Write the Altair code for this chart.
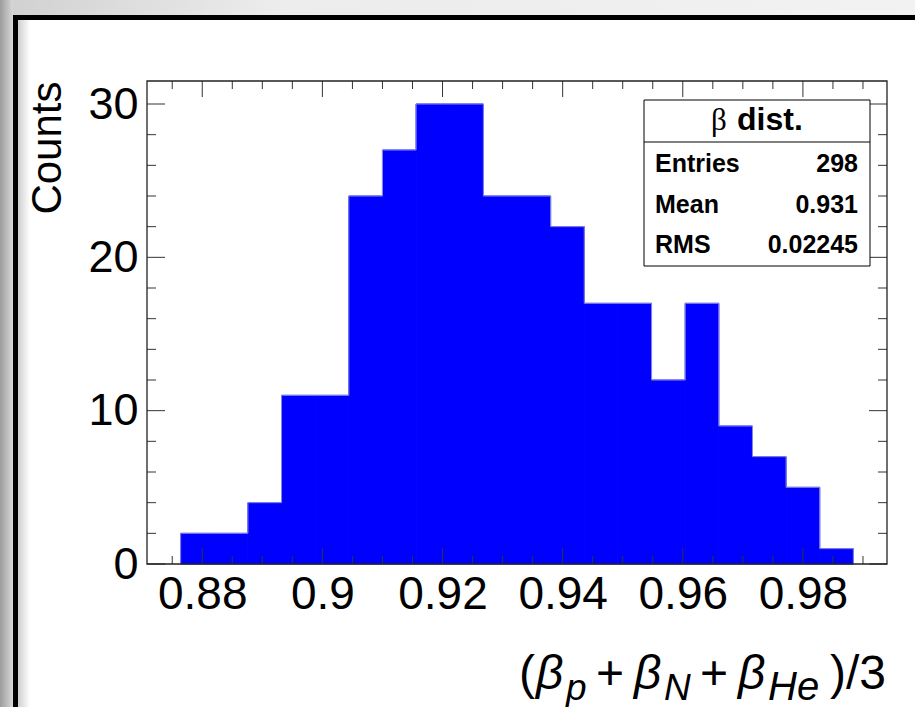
import altair as alt
import pandas as pd

# ---- data ----
bin_lo = [0.8764, 0.8820, 0.8876, 0.8932, 0.8988, 0.9044, 0.9100, 0.9156, 0.9212, 0.9268,
          0.9324, 0.9380, 0.9436, 0.9492, 0.9548, 0.9604, 0.9660, 0.9716, 0.9772, 0.9828]
bin_hi = [0.8820, 0.8876, 0.8932, 0.8988, 0.9044, 0.9100, 0.9156, 0.9212, 0.9268, 0.9324,
          0.9380, 0.9436, 0.9492, 0.9548, 0.9604, 0.9660, 0.9716, 0.9772, 0.9828, 0.9884]
counts = [2, 2, 4, 11, 11, 24, 27, 30, 30, 24, 24, 22, 17, 17, 12, 17, 9, 7, 5, 1]

x_major = [0.88, 0.90, 0.92, 0.94, 0.96, 0.98]
x_minor = [0.875, 0.885, 0.89, 0.895, 0.905, 0.91, 0.915, 0.925, 0.93, 0.935,
           0.945, 0.95, 0.955, 0.965, 0.97, 0.975, 0.985, 0.99]
y_major = [0, 10, 20, 30]
y_minor = [2, 4, 6, 8, 12, 14, 16, 18, 22, 24, 26, 28]

x_domain = [0.8708, 0.994]
y_domain = [0, 31.5]

stats_title = "dist."
stats_labels = ["Entries", "Mean", "RMS"]
stats_values = ["298", "0.931", "0.02245"]
y_title = "Counts"

# ---- layout ----
W, H = 740, 483
PL, PT = 147, 81
FONT = "Liberation Sans"

hist = pd.DataFrame({"lo": bin_lo, "hi": bin_hi, "n": counts})
ox = [bin_lo[0]] + bin_lo + [bin_hi[-1], bin_hi[-1]]
oy = [0] + counts + [counts[-1], 0]
outline = pd.DataFrame({"x": ox, "y": oy, "i": list(range(len(ox)))})
one = pd.DataFrame({"k": [0]})

xs = alt.Scale(domain=x_domain, nice=False, zero=False)
ys = alt.Scale(domain=y_domain, nice=False, zero=False)


def box(x1, x2, y1, y2, **kw):
    return alt.Chart(one).mark_rect(**kw).encode(
        x=alt.value(x1), x2=alt.value(x2), y=alt.value(y1), y2=alt.value(y2))


def vtext(txt, x, y, size, align="left", weight="normal", style="normal", font=FONT):
    return alt.Chart(one).mark_text(
        text=txt, align=align, baseline="alphabetic", fontSize=size,
        fontWeight=weight, fontStyle=style, font=font, color="black"
    ).encode(x=alt.value(x), y=alt.value(y))


grad_left = alt.Gradient(gradient="linear", x1=0, x2=1, y1=0, y2=0,
                         stops=[alt.GradientStop(color="#9c9c9c", offset=0),
                                alt.GradientStop(color="#d8d8d8", offset=1)])
grad_top = alt.Gradient(gradient="linear", x1=0, x2=1, y1=0, y2=0,
                        stops=[alt.GradientStop(color="#d0d0d0", offset=0),
                               alt.GradientStop(color="#ececec", offset=0.3),
                               alt.GradientStop(color="#f2f2f2", offset=1)])
grad_inner = alt.Gradient(gradient="linear", x1=0, x2=1, y1=0, y2=0,
                          stops=[alt.GradientStop(color="#cfcfcf", offset=0),
                                 alt.GradientStop(color="#ffffff", offset=1)])

deco = [
    box(-PL, 915 - PL, -PT, 15 - PT, fill=grad_top),
    box(-PL, 13 - PL, -PT, 707 - PT, fill=grad_left),
    box(18 - PL, 30 - PL, 20 - PT, 707 - PT, fill=grad_inner),
    box(13 - PL, 915 - PL, 15 - PT, 20 - PT, fill="black"),
    box(13 - PL, 18 - PL, 15 - PT, 707 - PT, fill="black"),
]

bars = alt.Chart(hist).mark_rect(color="#0000ff", stroke="#0000ff",
                                 strokeWidth=1).encode(
    x=alt.X("lo:Q", scale=xs, title=None,
            axis=alt.Axis(values=x_major, format=".2~f", ticks=False, domain=False,
                          grid=False, labelFont=FONT, labelFontSize=46,
                          labelColor="black", labelPadding=8, labelFlush=False,
                          labelOverlap=False)),
    x2="hi:Q",
    y=alt.Y("n:Q", scale=ys, title=y_title,
            axis=alt.Axis(values=y_major, format="d", ticks=False, domain=False,
                          grid=False, labelFont=FONT, labelFontSize=45,
                          labelColor="black", labelPadding=9, labelFlush=False,
                          labelOverlap=False, titleFont=FONT, titleFontSize=42,
                          titleFontWeight="normal", titleColor="black",
                          titleAngle=270, titleAlign="right",
                          titleBaseline="alphabetic", titleX=-87, titleY=0)),
    y2=alt.datum(0),
)

edge = alt.Chart(outline).mark_line(interpolate="step-after", color="#8a8ae0",
                                    strokeWidth=1).encode(
    x=alt.X("x:Q", scale=xs), y=alt.Y("y:Q", scale=ys), order="i:Q")

TC = "#333333"
xmaj = pd.DataFrame({"v": x_major})
xmin = pd.DataFrame({"v": x_minor})
ymaj = pd.DataFrame({"v": y_major})
ymin = pd.DataFrame({"v": y_minor})


def xticks(df, L):
    b = alt.Chart(df).mark_rule(color=TC, strokeWidth=1)
    return [b.encode(x=alt.X("v:Q", scale=xs), y=alt.value(H), y2=alt.value(H - L)),
            b.encode(x=alt.X("v:Q", scale=xs), y=alt.value(0), y2=alt.value(L))]


def yticks(df, L):
    b = alt.Chart(df).mark_rule(color=TC, strokeWidth=1)
    return [b.encode(y=alt.Y("v:Q", scale=ys), x=alt.value(0), x2=alt.value(L)),
            b.encode(y=alt.Y("v:Q", scale=ys), x=alt.value(W), x2=alt.value(W - L))]


ticks = xticks(xmaj, 16) + xticks(xmin, 8) + yticks(ymaj, 18) + yticks(ymin, 9)

frame = box(0, W, 0, H, fill=None, stroke="#222222", strokeWidth=1.3)

# stats box (absolute pixel geometry of the annotation panel)
sb = [
    box(644 - PL, 870 - PL, 100 - PT, 266 - PT, fill="white", stroke="black", strokeWidth=1),
    alt.Chart(one).mark_rule(color="black", strokeWidth=1).encode(
        x=alt.value(644 - PL), x2=alt.value(870 - PL), y=alt.value(142 - PT)),
    vtext("\u03b2", 711 - PL, 130 - PT, 31, font="Liberation Serif"),
    vtext(stats_title, 737 - PL, 130 - PT, 32, weight="bold"),
]
row_y = [172, 213, 253]
for lab, val, ry in zip(stats_labels, stats_values, row_y):
    sb.append(vtext(lab, 655 - PL, ry - PT, 25, weight="bold"))
    sb.append(vtext(val, 858 - PL, ry - PT, 25, align="right", weight="bold"))

# x-axis title: (β_p + β_N + β_He)/3
BY, SY = 689 - PT, 700 - PT
MF, SF = 48, 37
xt = [
    vtext("(", 519 - PL, BY, MF),
    vtext("\u03b2", 536 - PL, BY, MF, style="italic"),
    vtext("p", 566 - PL, SY, SF, style="italic"),
    vtext("+", 596 - PL, BY, MF),
    vtext("\u03b2", 634 - PL, BY, MF, style="italic"),
    vtext("N", 664 - PL, SY, SF, style="italic"),
    vtext("+", 700 - PL, BY, MF),
    vtext("\u03b2", 738 - PL, BY, MF, style="italic"),
    vtext("He", 768 - PL, SY, 40, style="italic"),
    vtext(")/3", 886 - PL, BY, MF, align="right"),
]

chart = alt.layer(*deco, bars, edge, *ticks, frame, *sb, *xt).properties(
    width=W, height=H,
    padding={"left": PL, "top": PT, "right": 915 - PL - W, "bottom": 707 - PT - H},
    autosize=alt.AutoSizeParams(type="none"),
).configure(background="white").configure_view(stroke=None)

chart.save("out.html", embed_options={"renderer": "svg", "actions": False})
